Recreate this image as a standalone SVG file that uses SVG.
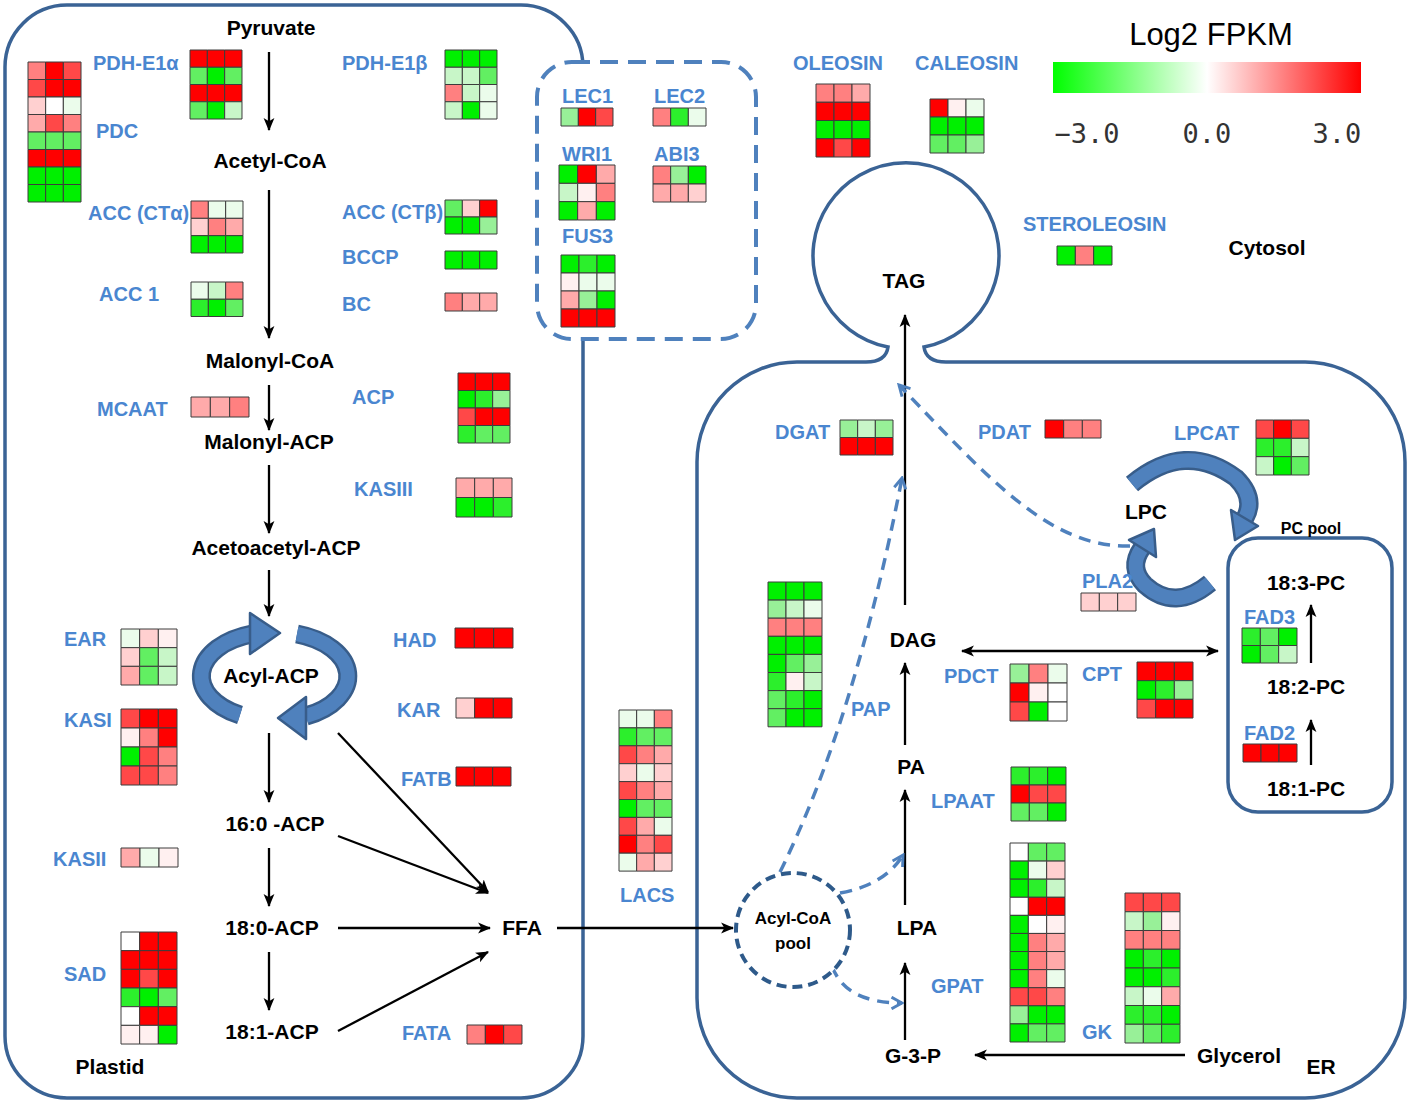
<svg xmlns="http://www.w3.org/2000/svg" width="1418" height="1104" viewBox="0 0 1418 1104">
<style>
text{font-family:"Liberation Sans",Arial,sans-serif;font-weight:bold}
.m{font-size:21px;fill:#000;text-anchor:middle}
.b{font-size:20px;fill:#4a86d0}
.hm rect{stroke:#3c3c3c;stroke-width:1;vector-effect:non-scaling-stroke}
.g5{fill:#00f000}.g4{fill:#2cef2c}.g3{fill:#62ef62}.g2{fill:#98f098}.g1{fill:#c8f6c8}.g0{fill:#ebfceb}
.w{fill:#ffffff}.r0{fill:#fff0f0}.r1{fill:#ffd0d0}.r2{fill:#ffaaaa}.r3{fill:#ff8080}.r4{fill:#ff4848}.r5{fill:#ff0000}
.comp{fill:none;stroke:#3a6395;stroke-width:3.5}
.ln{stroke:#000;stroke-width:2.3;fill:none}
.dl{stroke:#4f81bd;stroke-width:3.5;fill:none;stroke-dasharray:12 8}
.cy1{fill:none;stroke:#385d8a;stroke-width:19}
.cy2{fill:none;stroke:#4f81bd;stroke-width:14}
.cyh{fill:#4f81bd;stroke:#385d8a;stroke-width:2.5;stroke-linejoin:round}
</style>
<defs>
<marker id="ah" viewBox="0 0 12 12" refX="11" refY="6" markerWidth="13" markerHeight="13" markerUnits="userSpaceOnUse" orient="auto-start-reverse"><path d="M0,1 L12,6 L0,11 L3,6 Z" fill="#000"/></marker>
<marker id="bh" viewBox="0 0 12 12" refX="10" refY="6" markerWidth="14" markerHeight="14" markerUnits="userSpaceOnUse" orient="auto"><path d="M1,1 L10,6 L1,11" fill="none" stroke="#4f81bd" stroke-width="2.5"/></marker>
<linearGradient id="lg" x1="0" x2="1" y1="0" y2="0"><stop offset="0" stop-color="#00ff00"/><stop offset="0.5" stop-color="#ffffff"/><stop offset="1" stop-color="#ff0000"/></linearGradient>
</defs>
<rect width="1418" height="1104" fill="#fff"/>

<g id="compartments">
<rect id="plastid" class="comp" x="5" y="5" width="578" height="1093" rx="62"/>
<path id="er" class="comp" d="M797,362 L866,362 Q886,362 888,347 A93 93 0 1 1 924,347 Q926,362 946,362 L1305,362 A100 100 0 0 1 1405,462 L1405,998 A100 100 0 0 1 1305,1098 L797,1098 A100 100 0 0 1 697,998 L697,462 A100 100 0 0 1 797,362 Z"/>
<rect id="tfbox" x="537" y="62" width="219" height="277" rx="35" fill="#fff" stroke="#4f81bd" stroke-width="4" stroke-dasharray="18 10"/>
<rect id="pcpool" class="comp" x="1228" y="538" width="164" height="274" rx="30" fill="#fff"/>
</g>

<g id="connectors">
<line class="ln" x1="269" y1="52" x2="269" y2="130" marker-end="url(#ah)"/>
<line class="ln" x1="269" y1="190" x2="269" y2="338" marker-end="url(#ah)"/>
<line class="ln" x1="269" y1="385" x2="269" y2="430" marker-end="url(#ah)"/>
<line class="ln" x1="269" y1="465" x2="269" y2="533" marker-end="url(#ah)"/>
<line class="ln" x1="269" y1="570" x2="269" y2="616" marker-end="url(#ah)"/>
<line class="ln" x1="269" y1="733" x2="269" y2="802" marker-end="url(#ah)"/>
<line class="ln" x1="269" y1="848" x2="269" y2="906" marker-end="url(#ah)"/>
<line class="ln" x1="269" y1="952" x2="269" y2="1010" marker-end="url(#ah)"/>
<line class="ln" x1="338" y1="733" x2="488" y2="892" marker-end="url(#ah)"/>
<line class="ln" x1="338" y1="836" x2="488" y2="893" marker-end="url(#ah)"/>
<line class="ln" x1="338" y1="928" x2="490" y2="928" marker-end="url(#ah)"/>
<line class="ln" x1="338" y1="1031" x2="488" y2="952" marker-end="url(#ah)"/>
<line class="ln" x1="557" y1="928" x2="733" y2="928" marker-end="url(#ah)"/>
<line class="ln" x1="905" y1="1040" x2="905" y2="963" marker-end="url(#ah)"/>
<line class="ln" x1="905" y1="905" x2="905" y2="790" marker-end="url(#ah)"/>
<line class="ln" x1="905" y1="745" x2="905" y2="663" marker-end="url(#ah)"/>
<line class="ln" x1="905" y1="605" x2="905" y2="315" marker-end="url(#ah)"/>
<line class="ln" x1="962" y1="651" x2="1218" y2="651" marker-start="url(#ah)" marker-end="url(#ah)"/>
<line class="ln" x1="1185" y1="1055" x2="975" y2="1055" marker-end="url(#ah)"/>
<line class="ln" x1="1311" y1="663" x2="1311" y2="605" marker-end="url(#ah)"/>
<line class="ln" x1="1311" y1="765" x2="1311" y2="720" marker-end="url(#ah)"/>
<path class="dl" d="M780,872 Q855,720 902,478" marker-end="url(#bh)"/>
<path class="dl" d="M840,893 Q885,885 903,855" marker-end="url(#bh)"/>
<path class="dl" d="M832,966 Q845,1003 902,1003" marker-end="url(#bh)"/>
<path class="dl" d="M1130,546 C1050,548 990,480 899,385" marker-end="url(#bh)"/>
<g id="cycle-acp">
<path class="cy1" d="M240,715 A72 44 0 0 1 252,634"/><path class="cy2" d="M240,715 A72 44 0 0 1 252,634"/>
<polygon class="cyh" points="250,613 280,633 250,654"/>
<path class="cy1" d="M297,634 A72 44 0 0 1 306,716"/><path class="cy2" d="M297,634 A72 44 0 0 1 306,716"/>
<polygon class="cyh" points="306,697 278,718 306,739"/>
</g>
<g id="cycle-lpc">
<path class="cy1" d="M1132,484 Q1185,440 1236,478 Q1256,498 1245,518"/><path class="cy2" d="M1132,484 Q1185,440 1236,478 Q1256,498 1245,518"/>
<polygon class="cyh" points="1258,526 1235,540 1231,510"/>
<path class="cy1" d="M1210,583 Q1175,612 1145,585 Q1128,568 1142,548"/><path class="cy2" d="M1210,583 Q1175,612 1145,585 Q1128,568 1142,548"/>
<polygon class="cyh" points="1156,557 1154,529 1129,540"/>
</g>
</g>

<g id="metabolites">
<g id="n-pyruvate"><text class="m" x="271" y="35">Pyruvate</text></g>
<g id="n-acetylcoa"><text class="m" x="270" y="168">Acetyl-CoA</text></g>
<g id="n-malonylcoa"><text class="m" x="270" y="368">Malonyl-CoA</text></g>
<g id="n-malonylacp"><text class="m" x="269" y="449">Malonyl-ACP</text></g>
<g id="n-acetoacetyl"><text class="m" x="276" y="555">Acetoacetyl-ACP</text></g>
<g id="n-acylacp"><text class="m" x="271" y="683">Acyl-ACP</text></g>
<g id="n-160"><text class="m" x="275" y="831">16:0 -ACP</text></g>
<g id="n-180"><text class="m" x="272" y="935">18:0-ACP</text></g>
<g id="n-181"><text class="m" x="272" y="1039">18:1-ACP</text></g>
<g id="n-ffa"><text class="m" x="522" y="935">FFA</text></g>
<g id="n-plastid"><text class="m" x="110" y="1074">Plastid</text></g>
<g id="n-cytosol"><text class="m" x="1267" y="255">Cytosol</text></g>
<g id="n-tag"><text class="m" x="904" y="288">TAG</text></g>
<g id="n-dag"><text class="m" x="913" y="647">DAG</text></g>
<g id="n-pa"><text class="m" x="911" y="774">PA</text></g>
<g id="n-lpa"><text class="m" x="917" y="935">LPA</text></g>
<g id="n-g3p"><text class="m" x="913" y="1063">G-3-P</text></g>
<g id="n-glycerol"><text class="m" x="1239" y="1063">Glycerol</text></g>
<g id="n-er"><text class="m" x="1321" y="1074">ER</text></g>
<g id="n-lpc"><text class="m" x="1146" y="519">LPC</text></g>
<g id="n-pcpool"><text class="m" x="1311" y="534" style="font-size:16px">PC pool</text></g>
<g id="n-183pc"><text class="m" x="1306" y="590">18:3-PC</text></g>
<g id="n-182pc"><text class="m" x="1306" y="694">18:2-PC</text></g>
<g id="n-181pc"><text class="m" x="1306" y="796">18:1-PC</text></g>
<g id="n-acylcoa"><circle cx="793" cy="930" r="57" fill="#fff" stroke="#2e5a8a" stroke-width="4" stroke-dasharray="10 6"/><text class="m" x="793" y="924" style="font-size:17px">Acyl-CoA</text><text class="m" x="793" y="949" style="font-size:17px">pool</text></g>
</g>

<g id="legend">
<text x="1211" y="45" style="font-size:31px;font-weight:normal;text-anchor:middle">Log2 FPKM</text>
<rect x="1053" y="62" width="308" height="31" fill="url(#lg)"/>
<text x="1087" y="143" style="font-family:'DejaVu Sans Mono',monospace;font-weight:normal;font-size:27px;fill:#333;text-anchor:middle">−3.0</text>
<text x="1207" y="143" style="font-family:'DejaVu Sans Mono',monospace;font-weight:normal;font-size:27px;fill:#333;text-anchor:middle">0.0</text>
<text x="1337" y="143" style="font-family:'DejaVu Sans Mono',monospace;font-weight:normal;font-size:27px;fill:#333;text-anchor:middle">3.0</text>
</g>

<g id="genes">
<g id="g-pdc"><text class="b" x="96" y="138">PDC</text>
<g class="hm" transform="translate(28,62) scale(17.67,17.5)">
<rect x="0" y="0" width="1" height="1" class="r3"/><rect x="1" y="0" width="1" height="1" class="r5"/><rect x="2" y="0" width="1" height="1" class="r4"/>
<rect x="0" y="1" width="1" height="1" class="r4"/><rect x="1" y="1" width="1" height="1" class="r5"/><rect x="2" y="1" width="1" height="1" class="r5"/>
<rect x="0" y="2" width="1" height="1" class="r1"/><rect x="1" y="2" width="1" height="1" class="w"/><rect x="2" y="2" width="1" height="1" class="g0"/>
<rect x="0" y="3" width="1" height="1" class="r2"/><rect x="1" y="3" width="1" height="1" class="r4"/><rect x="2" y="3" width="1" height="1" class="r3"/>
<rect x="0" y="4" width="1" height="1" class="g3"/><rect x="1" y="4" width="1" height="1" class="g3"/><rect x="2" y="4" width="1" height="1" class="g3"/>
<rect x="0" y="5" width="1" height="1" class="r5"/><rect x="1" y="5" width="1" height="1" class="r5"/><rect x="2" y="5" width="1" height="1" class="r5"/>
<rect x="0" y="6" width="1" height="1" class="g5"/><rect x="1" y="6" width="1" height="1" class="g5"/><rect x="2" y="6" width="1" height="1" class="g5"/>
<rect x="0" y="7" width="1" height="1" class="g5"/><rect x="1" y="7" width="1" height="1" class="g5"/><rect x="2" y="7" width="1" height="1" class="g5"/>
</g></g>
<g id="g-pdhe1a"><text class="b" x="93" y="70">PDH-E1α</text>
<g class="hm" transform="translate(190,50) scale(17.33,17.25)">
<rect x="0" y="0" width="1" height="1" class="r5"/><rect x="1" y="0" width="1" height="1" class="r5"/><rect x="2" y="0" width="1" height="1" class="r5"/>
<rect x="0" y="1" width="1" height="1" class="g3"/><rect x="1" y="1" width="1" height="1" class="g5"/><rect x="2" y="1" width="1" height="1" class="g3"/>
<rect x="0" y="2" width="1" height="1" class="r5"/><rect x="1" y="2" width="1" height="1" class="r5"/><rect x="2" y="2" width="1" height="1" class="r5"/>
<rect x="0" y="3" width="1" height="1" class="g3"/><rect x="1" y="3" width="1" height="1" class="g5"/><rect x="2" y="3" width="1" height="1" class="g1"/>
</g></g>
<g id="g-accca"><text class="b" x="88" y="220">ACC (CTα)</text>
<g class="hm" transform="translate(191,201) scale(17.33,17.33)">
<rect x="0" y="0" width="1" height="1" class="r3"/><rect x="1" y="0" width="1" height="1" class="g0"/><rect x="2" y="0" width="1" height="1" class="g0"/>
<rect x="0" y="1" width="1" height="1" class="r1"/><rect x="1" y="1" width="1" height="1" class="r3"/><rect x="2" y="1" width="1" height="1" class="r2"/>
<rect x="0" y="2" width="1" height="1" class="g5"/><rect x="1" y="2" width="1" height="1" class="g5"/><rect x="2" y="2" width="1" height="1" class="g5"/>
</g></g>
<g id="g-acc1"><text class="b" x="99" y="301">ACC 1</text>
<g class="hm" transform="translate(191,282) scale(17.33,17.25)">
<rect x="0" y="0" width="1" height="1" class="g0"/><rect x="1" y="0" width="1" height="1" class="g1"/><rect x="2" y="0" width="1" height="1" class="r3"/>
<rect x="0" y="1" width="1" height="1" class="g4"/><rect x="1" y="1" width="1" height="1" class="g5"/><rect x="2" y="1" width="1" height="1" class="g3"/>
</g></g>
<g id="g-pdhe1b"><text class="b" x="342" y="70">PDH-E1β</text>
<g class="hm" transform="translate(445,50) scale(17.33,17.25)">
<rect x="0" y="0" width="1" height="1" class="g5"/><rect x="1" y="0" width="1" height="1" class="g5"/><rect x="2" y="0" width="1" height="1" class="g5"/>
<rect x="0" y="1" width="1" height="1" class="g1"/><rect x="1" y="1" width="1" height="1" class="g1"/><rect x="2" y="1" width="1" height="1" class="g3"/>
<rect x="0" y="2" width="1" height="1" class="r3"/><rect x="1" y="2" width="1" height="1" class="g1"/><rect x="2" y="2" width="1" height="1" class="g0"/>
<rect x="0" y="3" width="1" height="1" class="g1"/><rect x="1" y="3" width="1" height="1" class="g5"/><rect x="2" y="3" width="1" height="1" class="g0"/>
</g></g>
<g id="g-acccb"><text class="b" x="342" y="219">ACC (CTβ)</text>
<g class="hm" transform="translate(445,200) scale(17.33,17)">
<rect x="0" y="0" width="1" height="1" class="g3"/><rect x="1" y="0" width="1" height="1" class="r1"/><rect x="2" y="0" width="1" height="1" class="r5"/>
<rect x="0" y="1" width="1" height="1" class="g5"/><rect x="1" y="1" width="1" height="1" class="g5"/><rect x="2" y="1" width="1" height="1" class="g2"/>
</g></g>
<g id="g-bccp"><text class="b" x="342" y="264">BCCP</text>
<g class="hm" transform="translate(445,251) scale(17.33,18)">
<rect x="0" y="0" width="1" height="1" class="g5"/><rect x="1" y="0" width="1" height="1" class="g5"/><rect x="2" y="0" width="1" height="1" class="g5"/>
</g></g>
<g id="g-bc"><text class="b" x="342" y="311">BC</text>
<g class="hm" transform="translate(445,293) scale(17.33,18)">
<rect x="0" y="0" width="1" height="1" class="r3"/><rect x="1" y="0" width="1" height="1" class="r2"/><rect x="2" y="0" width="1" height="1" class="r2"/>
</g></g>
<g id="g-mcaat"><text class="b" x="97" y="416">MCAAT</text>
<g class="hm" transform="translate(191,397) scale(19.33,20)">
<rect x="0" y="0" width="1" height="1" class="r2"/><rect x="1" y="0" width="1" height="1" class="r2"/><rect x="2" y="0" width="1" height="1" class="r3"/>
</g></g>
<g id="g-acp"><text class="b" x="352" y="404">ACP</text>
<g class="hm" transform="translate(458,373) scale(17.33,17.5)">
<rect x="0" y="0" width="1" height="1" class="r5"/><rect x="1" y="0" width="1" height="1" class="r5"/><rect x="2" y="0" width="1" height="1" class="r5"/>
<rect x="0" y="1" width="1" height="1" class="g5"/><rect x="1" y="1" width="1" height="1" class="g4"/><rect x="2" y="1" width="1" height="1" class="g2"/>
<rect x="0" y="2" width="1" height="1" class="r4"/><rect x="1" y="2" width="1" height="1" class="r5"/><rect x="2" y="2" width="1" height="1" class="r5"/>
<rect x="0" y="3" width="1" height="1" class="g4"/><rect x="1" y="3" width="1" height="1" class="g3"/><rect x="2" y="3" width="1" height="1" class="g3"/>
</g></g>
<g id="g-kasiii"><text class="b" x="354" y="496">KASIII</text>
<g class="hm" transform="translate(456,478) scale(18.67,19.5)">
<rect x="0" y="0" width="1" height="1" class="r2"/><rect x="1" y="0" width="1" height="1" class="r2"/><rect x="2" y="0" width="1" height="1" class="r2"/>
<rect x="0" y="1" width="1" height="1" class="g5"/><rect x="1" y="1" width="1" height="1" class="g5"/><rect x="2" y="1" width="1" height="1" class="g4"/>
</g></g>
<g id="g-ear"><text class="b" x="64" y="646">EAR</text>
<g class="hm" transform="translate(121,629) scale(18.67,18.67)">
<rect x="0" y="0" width="1" height="1" class="g0"/><rect x="1" y="0" width="1" height="1" class="r1"/><rect x="2" y="0" width="1" height="1" class="r0"/>
<rect x="0" y="1" width="1" height="1" class="r1"/><rect x="1" y="1" width="1" height="1" class="g3"/><rect x="2" y="1" width="1" height="1" class="g1"/>
<rect x="0" y="2" width="1" height="1" class="r2"/><rect x="1" y="2" width="1" height="1" class="g3"/><rect x="2" y="2" width="1" height="1" class="g1"/>
</g></g>
<g id="g-kasi"><text class="b" x="64" y="727">KASI</text>
<g class="hm" transform="translate(121,709) scale(18.67,19)">
<rect x="0" y="0" width="1" height="1" class="r4"/><rect x="1" y="0" width="1" height="1" class="r5"/><rect x="2" y="0" width="1" height="1" class="r5"/>
<rect x="0" y="1" width="1" height="1" class="r0"/><rect x="1" y="1" width="1" height="1" class="r3"/><rect x="2" y="1" width="1" height="1" class="r5"/>
<rect x="0" y="2" width="1" height="1" class="g5"/><rect x="1" y="2" width="1" height="1" class="r4"/><rect x="2" y="2" width="1" height="1" class="r3"/>
<rect x="0" y="3" width="1" height="1" class="r4"/><rect x="1" y="3" width="1" height="1" class="r4"/><rect x="2" y="3" width="1" height="1" class="r3"/>
</g></g>
<g id="g-had"><text class="b" x="393" y="647">HAD</text>
<g class="hm" transform="translate(455,628) scale(19.33,20)">
<rect x="0" y="0" width="1" height="1" class="r5"/><rect x="1" y="0" width="1" height="1" class="r5"/><rect x="2" y="0" width="1" height="1" class="r5"/>
</g></g>
<g id="g-kar"><text class="b" x="397" y="717">KAR</text>
<g class="hm" transform="translate(456,698) scale(18.67,20)">
<rect x="0" y="0" width="1" height="1" class="r1"/><rect x="1" y="0" width="1" height="1" class="r5"/><rect x="2" y="0" width="1" height="1" class="r5"/>
</g></g>
<g id="g-fatb"><text class="b" x="401" y="786">FATB</text>
<g class="hm" transform="translate(456,767) scale(18.33,19)">
<rect x="0" y="0" width="1" height="1" class="r5"/><rect x="1" y="0" width="1" height="1" class="r5"/><rect x="2" y="0" width="1" height="1" class="r5"/>
</g></g>
<g id="g-kasii"><text class="b" x="53" y="866">KASII</text>
<g class="hm" transform="translate(121,848) scale(19,19)">
<rect x="0" y="0" width="1" height="1" class="r2"/><rect x="1" y="0" width="1" height="1" class="g0"/><rect x="2" y="0" width="1" height="1" class="r0"/>
</g></g>
<g id="g-sad"><text class="b" x="64" y="981">SAD</text>
<g class="hm" transform="translate(121,932) scale(18.67,18.67)">
<rect x="0" y="0" width="1" height="1" class="w"/><rect x="1" y="0" width="1" height="1" class="r5"/><rect x="2" y="0" width="1" height="1" class="r5"/>
<rect x="0" y="1" width="1" height="1" class="r5"/><rect x="1" y="1" width="1" height="1" class="r5"/><rect x="2" y="1" width="1" height="1" class="r5"/>
<rect x="0" y="2" width="1" height="1" class="r5"/><rect x="1" y="2" width="1" height="1" class="r4"/><rect x="2" y="2" width="1" height="1" class="r5"/>
<rect x="0" y="3" width="1" height="1" class="g4"/><rect x="1" y="3" width="1" height="1" class="g5"/><rect x="2" y="3" width="1" height="1" class="g3"/>
<rect x="0" y="4" width="1" height="1" class="w"/><rect x="1" y="4" width="1" height="1" class="r5"/><rect x="2" y="4" width="1" height="1" class="r5"/>
<rect x="0" y="5" width="1" height="1" class="r0"/><rect x="1" y="5" width="1" height="1" class="r0"/><rect x="2" y="5" width="1" height="1" class="g5"/>
</g></g>
<g id="g-fata"><text class="b" x="402" y="1040">FATA</text>
<g class="hm" transform="translate(467,1025) scale(18.33,19)">
<rect x="0" y="0" width="1" height="1" class="r3"/><rect x="1" y="0" width="1" height="1" class="r5"/><rect x="2" y="0" width="1" height="1" class="r4"/>
</g></g>
<g id="g-lec1"><text class="b" x="562" y="103">LEC1</text>
<g class="hm" transform="translate(561,108) scale(17.33,18)">
<rect x="0" y="0" width="1" height="1" class="g2"/><rect x="1" y="0" width="1" height="1" class="r5"/><rect x="2" y="0" width="1" height="1" class="r4"/>
</g></g>
<g id="g-lec2"><text class="b" x="654" y="103">LEC2</text>
<g class="hm" transform="translate(653,108) scale(17.67,18)">
<rect x="0" y="0" width="1" height="1" class="r3"/><rect x="1" y="0" width="1" height="1" class="g4"/><rect x="2" y="0" width="1" height="1" class="g0"/>
</g></g>
<g id="g-wri1"><text class="b" x="562" y="161">WRI1</text>
<g class="hm" transform="translate(559,165) scale(18.67,18.33)">
<rect x="0" y="0" width="1" height="1" class="g5"/><rect x="1" y="0" width="1" height="1" class="r5"/><rect x="2" y="0" width="1" height="1" class="r2"/>
<rect x="0" y="1" width="1" height="1" class="g1"/><rect x="1" y="1" width="1" height="1" class="r0"/><rect x="2" y="1" width="1" height="1" class="r3"/>
<rect x="0" y="2" width="1" height="1" class="g5"/><rect x="1" y="2" width="1" height="1" class="r2"/><rect x="2" y="2" width="1" height="1" class="g5"/>
</g></g>
<g id="g-abi3"><text class="b" x="654" y="161">ABI3</text>
<g class="hm" transform="translate(653,166) scale(17.67,18)">
<rect x="0" y="0" width="1" height="1" class="r3"/><rect x="1" y="0" width="1" height="1" class="g2"/><rect x="2" y="0" width="1" height="1" class="g5"/>
<rect x="0" y="1" width="1" height="1" class="r2"/><rect x="1" y="1" width="1" height="1" class="r2"/><rect x="2" y="1" width="1" height="1" class="r1"/>
</g></g>
<g id="g-fus3"><text class="b" x="562" y="243">FUS3</text>
<g class="hm" transform="translate(561,255) scale(18,18)">
<rect x="0" y="0" width="1" height="1" class="g5"/><rect x="1" y="0" width="1" height="1" class="g4"/><rect x="2" y="0" width="1" height="1" class="g5"/>
<rect x="0" y="1" width="1" height="1" class="r0"/><rect x="1" y="1" width="1" height="1" class="g0"/><rect x="2" y="1" width="1" height="1" class="g0"/>
<rect x="0" y="2" width="1" height="1" class="r2"/><rect x="1" y="2" width="1" height="1" class="g2"/><rect x="2" y="2" width="1" height="1" class="g5"/>
<rect x="0" y="3" width="1" height="1" class="r5"/><rect x="1" y="3" width="1" height="1" class="r5"/><rect x="2" y="3" width="1" height="1" class="r5"/>
</g></g>
<g id="g-oleosin"><text class="b" x="793" y="70">OLEOSIN</text>
<g class="hm" transform="translate(816,84) scale(18,18.25)">
<rect x="0" y="0" width="1" height="1" class="r3"/><rect x="1" y="0" width="1" height="1" class="r3"/><rect x="2" y="0" width="1" height="1" class="r2"/>
<rect x="0" y="1" width="1" height="1" class="r5"/><rect x="1" y="1" width="1" height="1" class="r5"/><rect x="2" y="1" width="1" height="1" class="r5"/>
<rect x="0" y="2" width="1" height="1" class="g5"/><rect x="1" y="2" width="1" height="1" class="g5"/><rect x="2" y="2" width="1" height="1" class="g5"/>
<rect x="0" y="3" width="1" height="1" class="r5"/><rect x="1" y="3" width="1" height="1" class="r4"/><rect x="2" y="3" width="1" height="1" class="r5"/>
</g></g>
<g id="g-caleosin"><text class="b" x="915" y="70">CALEOSIN</text>
<g class="hm" transform="translate(930,99) scale(18,18)">
<rect x="0" y="0" width="1" height="1" class="r5"/><rect x="1" y="0" width="1" height="1" class="r0"/><rect x="2" y="0" width="1" height="1" class="g0"/>
<rect x="0" y="1" width="1" height="1" class="g5"/><rect x="1" y="1" width="1" height="1" class="g5"/><rect x="2" y="1" width="1" height="1" class="g5"/>
<rect x="0" y="2" width="1" height="1" class="g3"/><rect x="1" y="2" width="1" height="1" class="g3"/><rect x="2" y="2" width="1" height="1" class="g2"/>
</g></g>
<g id="g-steroleosin"><text class="b" x="1023" y="231">STEROLEOSIN</text>
<g class="hm" transform="translate(1057,246) scale(18.33,19)">
<rect x="0" y="0" width="1" height="1" class="g5"/><rect x="1" y="0" width="1" height="1" class="r3"/><rect x="2" y="0" width="1" height="1" class="g5"/>
</g></g>
<g id="g-lacs"><text class="b" x="620" y="902">LACS</text>
<g class="hm" transform="translate(619,710) scale(17.67,17.9)">
<rect x="0" y="0" width="1" height="1" class="g0"/><rect x="1" y="0" width="1" height="1" class="g0"/><rect x="2" y="0" width="1" height="1" class="r3"/>
<rect x="0" y="1" width="1" height="1" class="g4"/><rect x="1" y="1" width="1" height="1" class="g3"/><rect x="2" y="1" width="1" height="1" class="g3"/>
<rect x="0" y="2" width="1" height="1" class="r4"/><rect x="1" y="2" width="1" height="1" class="r3"/><rect x="2" y="2" width="1" height="1" class="r2"/>
<rect x="0" y="3" width="1" height="1" class="r1"/><rect x="1" y="3" width="1" height="1" class="g0"/><rect x="2" y="3" width="1" height="1" class="r1"/>
<rect x="0" y="4" width="1" height="1" class="r4"/><rect x="1" y="4" width="1" height="1" class="r3"/><rect x="2" y="4" width="1" height="1" class="r2"/>
<rect x="0" y="5" width="1" height="1" class="g5"/><rect x="1" y="5" width="1" height="1" class="g3"/><rect x="2" y="5" width="1" height="1" class="g3"/>
<rect x="0" y="6" width="1" height="1" class="r4"/><rect x="1" y="6" width="1" height="1" class="r2"/><rect x="2" y="6" width="1" height="1" class="g0"/>
<rect x="0" y="7" width="1" height="1" class="r5"/><rect x="1" y="7" width="1" height="1" class="r3"/><rect x="2" y="7" width="1" height="1" class="r4"/>
<rect x="0" y="8" width="1" height="1" class="g0"/><rect x="1" y="8" width="1" height="1" class="r2"/><rect x="2" y="8" width="1" height="1" class="r1"/>
</g></g>
<g id="g-pap"><text class="b" x="851" y="716">PAP</text>
<g class="hm" transform="translate(768,582) scale(18,18.1)">
<rect x="0" y="0" width="1" height="1" class="g5"/><rect x="1" y="0" width="1" height="1" class="g5"/><rect x="2" y="0" width="1" height="1" class="g5"/>
<rect x="0" y="1" width="1" height="1" class="g2"/><rect x="1" y="1" width="1" height="1" class="g1"/><rect x="2" y="1" width="1" height="1" class="g0"/>
<rect x="0" y="2" width="1" height="1" class="r3"/><rect x="1" y="2" width="1" height="1" class="r3"/><rect x="2" y="2" width="1" height="1" class="r3"/>
<rect x="0" y="3" width="1" height="1" class="g5"/><rect x="1" y="3" width="1" height="1" class="g5"/><rect x="2" y="3" width="1" height="1" class="g5"/>
<rect x="0" y="4" width="1" height="1" class="g5"/><rect x="1" y="4" width="1" height="1" class="g3"/><rect x="2" y="4" width="1" height="1" class="g2"/>
<rect x="0" y="5" width="1" height="1" class="g4"/><rect x="1" y="5" width="1" height="1" class="r0"/><rect x="2" y="5" width="1" height="1" class="g1"/>
<rect x="0" y="6" width="1" height="1" class="g3"/><rect x="1" y="6" width="1" height="1" class="g4"/><rect x="2" y="6" width="1" height="1" class="g5"/>
<rect x="0" y="7" width="1" height="1" class="g3"/><rect x="1" y="7" width="1" height="1" class="g5"/><rect x="2" y="7" width="1" height="1" class="g5"/>
</g></g>
<g id="g-dgat"><text class="b" x="775" y="439">DGAT</text>
<g class="hm" transform="translate(840,420) scale(17.67,17.5)">
<rect x="0" y="0" width="1" height="1" class="g2"/><rect x="1" y="0" width="1" height="1" class="g1"/><rect x="2" y="0" width="1" height="1" class="g2"/>
<rect x="0" y="1" width="1" height="1" class="r5"/><rect x="1" y="1" width="1" height="1" class="r5"/><rect x="2" y="1" width="1" height="1" class="r5"/>
</g></g>
<g id="g-pdat"><text class="b" x="978" y="439">PDAT</text>
<g class="hm" transform="translate(1045,420) scale(18.67,18)">
<rect x="0" y="0" width="1" height="1" class="r5"/><rect x="1" y="0" width="1" height="1" class="r3"/><rect x="2" y="0" width="1" height="1" class="r3"/>
</g></g>
<g id="g-lpcat"><text class="b" x="1174" y="440">LPCAT</text>
<g class="hm" transform="translate(1256,420) scale(17.67,18.33)">
<rect x="0" y="0" width="1" height="1" class="r4"/><rect x="1" y="0" width="1" height="1" class="r5"/><rect x="2" y="0" width="1" height="1" class="r4"/>
<rect x="0" y="1" width="1" height="1" class="g4"/><rect x="1" y="1" width="1" height="1" class="g4"/><rect x="2" y="1" width="1" height="1" class="g1"/>
<rect x="0" y="2" width="1" height="1" class="g1"/><rect x="1" y="2" width="1" height="1" class="g5"/><rect x="2" y="2" width="1" height="1" class="g3"/>
</g></g>
<g id="g-pla2"><text class="b" x="1082" y="588">PLA2</text>
<g class="hm" transform="translate(1081,593) scale(18.33,18)">
<rect x="0" y="0" width="1" height="1" class="r1"/><rect x="1" y="0" width="1" height="1" class="r1"/><rect x="2" y="0" width="1" height="1" class="r1"/>
</g></g>
<g id="g-pdct"><text class="b" x="944" y="683">PDCT</text>
<g class="hm" transform="translate(1010,664) scale(19,19)">
<rect x="0" y="0" width="1" height="1" class="g2"/><rect x="1" y="0" width="1" height="1" class="r3"/><rect x="2" y="0" width="1" height="1" class="g0"/>
<rect x="0" y="1" width="1" height="1" class="r5"/><rect x="1" y="1" width="1" height="1" class="r0"/><rect x="2" y="1" width="1" height="1" class="w"/>
<rect x="0" y="2" width="1" height="1" class="r4"/><rect x="1" y="2" width="1" height="1" class="g5"/><rect x="2" y="2" width="1" height="1" class="w"/>
</g></g>
<g id="g-cpt"><text class="b" x="1082" y="681">CPT</text>
<g class="hm" transform="translate(1137,662) scale(18.67,18.67)">
<rect x="0" y="0" width="1" height="1" class="r5"/><rect x="1" y="0" width="1" height="1" class="r5"/><rect x="2" y="0" width="1" height="1" class="r5"/>
<rect x="0" y="1" width="1" height="1" class="g5"/><rect x="1" y="1" width="1" height="1" class="g4"/><rect x="2" y="1" width="1" height="1" class="g2"/>
<rect x="0" y="2" width="1" height="1" class="r4"/><rect x="1" y="2" width="1" height="1" class="r5"/><rect x="2" y="2" width="1" height="1" class="r5"/>
</g></g>
<g id="g-fad3"><text class="b" x="1244" y="624">FAD3</text>
<g class="hm" transform="translate(1242,628) scale(18.33,17.5)">
<rect x="0" y="0" width="1" height="1" class="g4"/><rect x="1" y="0" width="1" height="1" class="g3"/><rect x="2" y="0" width="1" height="1" class="g5"/>
<rect x="0" y="1" width="1" height="1" class="g5"/><rect x="1" y="1" width="1" height="1" class="g3"/><rect x="2" y="1" width="1" height="1" class="g1"/>
</g></g>
<g id="g-fad2"><text class="b" x="1244" y="740">FAD2</text>
<g class="hm" transform="translate(1243,744) scale(18,18)">
<rect x="0" y="0" width="1" height="1" class="r5"/><rect x="1" y="0" width="1" height="1" class="r5"/><rect x="2" y="0" width="1" height="1" class="r5"/>
</g></g>
<g id="g-lpaat"><text class="b" x="931" y="808">LPAAT</text>
<g class="hm" transform="translate(1011,767) scale(18.33,18)">
<rect x="0" y="0" width="1" height="1" class="g4"/><rect x="1" y="0" width="1" height="1" class="g4"/><rect x="2" y="0" width="1" height="1" class="g5"/>
<rect x="0" y="1" width="1" height="1" class="r5"/><rect x="1" y="1" width="1" height="1" class="r4"/><rect x="2" y="1" width="1" height="1" class="r4"/>
<rect x="0" y="2" width="1" height="1" class="g3"/><rect x="1" y="2" width="1" height="1" class="g3"/><rect x="2" y="2" width="1" height="1" class="g5"/>
</g></g>
<g id="g-gpat"><text class="b" x="931" y="993">GPAT</text>
<g class="hm" transform="translate(1010,843) scale(18.33,18.09)">
<rect x="0" y="0" width="1" height="1" class="w"/><rect x="1" y="0" width="1" height="1" class="g3"/><rect x="2" y="0" width="1" height="1" class="g3"/>
<rect x="0" y="1" width="1" height="1" class="g5"/><rect x="1" y="1" width="1" height="1" class="g0"/><rect x="2" y="1" width="1" height="1" class="r1"/>
<rect x="0" y="2" width="1" height="1" class="g5"/><rect x="1" y="2" width="1" height="1" class="g4"/><rect x="2" y="2" width="1" height="1" class="g1"/>
<rect x="0" y="3" width="1" height="1" class="w"/><rect x="1" y="3" width="1" height="1" class="r5"/><rect x="2" y="3" width="1" height="1" class="r5"/>
<rect x="0" y="4" width="1" height="1" class="g5"/><rect x="1" y="4" width="1" height="1" class="w"/><rect x="2" y="4" width="1" height="1" class="r0"/>
<rect x="0" y="5" width="1" height="1" class="g5"/><rect x="1" y="5" width="1" height="1" class="r3"/><rect x="2" y="5" width="1" height="1" class="r2"/>
<rect x="0" y="6" width="1" height="1" class="g5"/><rect x="1" y="6" width="1" height="1" class="r3"/><rect x="2" y="6" width="1" height="1" class="r2"/>
<rect x="0" y="7" width="1" height="1" class="g5"/><rect x="1" y="7" width="1" height="1" class="r3"/><rect x="2" y="7" width="1" height="1" class="g0"/>
<rect x="0" y="8" width="1" height="1" class="r4"/><rect x="1" y="8" width="1" height="1" class="r4"/><rect x="2" y="8" width="1" height="1" class="r3"/>
<rect x="0" y="9" width="1" height="1" class="g2"/><rect x="1" y="9" width="1" height="1" class="g5"/><rect x="2" y="9" width="1" height="1" class="g5"/>
<rect x="0" y="10" width="1" height="1" class="g5"/><rect x="1" y="10" width="1" height="1" class="g3"/><rect x="2" y="10" width="1" height="1" class="g3"/>
</g></g>
<g id="g-gk"><text class="b" x="1082" y="1039">GK</text>
<g class="hm" transform="translate(1125,893) scale(18.33,18.75)">
<rect x="0" y="0" width="1" height="1" class="r4"/><rect x="1" y="0" width="1" height="1" class="r4"/><rect x="2" y="0" width="1" height="1" class="r4"/>
<rect x="0" y="1" width="1" height="1" class="g1"/><rect x="1" y="1" width="1" height="1" class="g2"/><rect x="2" y="1" width="1" height="1" class="r0"/>
<rect x="0" y="2" width="1" height="1" class="r3"/><rect x="1" y="2" width="1" height="1" class="r3"/><rect x="2" y="2" width="1" height="1" class="r3"/>
<rect x="0" y="3" width="1" height="1" class="g5"/><rect x="1" y="3" width="1" height="1" class="g4"/><rect x="2" y="3" width="1" height="1" class="g5"/>
<rect x="0" y="4" width="1" height="1" class="g5"/><rect x="1" y="4" width="1" height="1" class="g5"/><rect x="2" y="4" width="1" height="1" class="g4"/>
<rect x="0" y="5" width="1" height="1" class="g1"/><rect x="1" y="5" width="1" height="1" class="g0"/><rect x="2" y="5" width="1" height="1" class="r2"/>
<rect x="0" y="6" width="1" height="1" class="g4"/><rect x="1" y="6" width="1" height="1" class="g4"/><rect x="2" y="6" width="1" height="1" class="g5"/>
<rect x="0" y="7" width="1" height="1" class="g2"/><rect x="1" y="7" width="1" height="1" class="g3"/><rect x="2" y="7" width="1" height="1" class="g4"/>
</g></g>
</g>
</svg>
